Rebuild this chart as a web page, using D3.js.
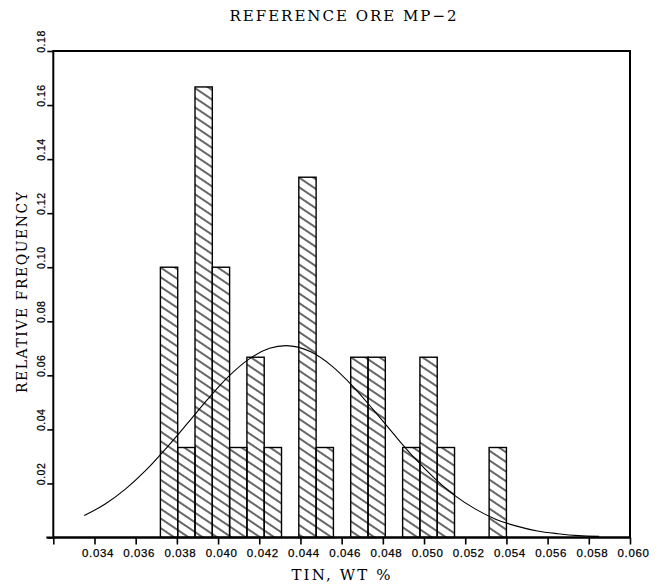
<!DOCTYPE html>
<html>
<head>
  <meta charset="UTF-8">
  <title>Reference Ore MP-2</title>
  <script src="https://cdn.jsdelivr.net/npm/d3@7"></script>
  <style>
    body { margin: 0; background: #fff; }
    svg { display: block; }
  </style>
</head>
<body>
  <div id="chart"></div>
  <script>
    // histogram of tin content, 30 assays, 20 bins
    const binStart = 0.0372;
    const binWidth = 0.00084;
    const relFreq = [0.1000, 0.0333, 0.1667, 0.1000, 0.0333, 0.0667, 0.0333, 0, 0.1333, 0.0333,
                     0, 0.0667, 0.0667, 0, 0.0333, 0.0667, 0.0333, 0, 0, 0.0333];

    // fitted normal curve
    const curveX = [0.0335, 0.0345, 0.0355, 0.0365, 0.0375, 0.0385, 0.0395, 0.0405, 0.0415, 0.0425,
                    0.0433, 0.0445, 0.0455, 0.0465, 0.0475, 0.0485, 0.0495, 0.0505, 0.0515, 0.0525,
                    0.0535, 0.0545, 0.0555, 0.0565, 0.0575, 0.0585];
    const curveY = [0.0081, 0.0123, 0.0179, 0.0249, 0.0332, 0.0421, 0.0512, 0.0595, 0.0660, 0.0700,
                    0.0710, 0.0687, 0.0636, 0.0563, 0.0476, 0.0385, 0.0297, 0.0220, 0.0155, 0.0105,
                    0.0067, 0.0042, 0.0024, 0.0014, 0.0007, 0.0004];

    const xTicks = [0.032, 0.034, 0.036, 0.038, 0.040, 0.042, 0.044, 0.046, 0.048, 0.050,
                    0.052, 0.054, 0.056, 0.058, 0.060];
    const yTicks = [0, 0.02, 0.04, 0.06, 0.08, 0.10, 0.12, 0.14, 0.16, 0.18];

    const width = 666, height = 586;
    const margin = {top: 51, right: 36, bottom: 48.5, left: 53.3};
    const plotW = width - margin.left - margin.right;
    const plotH = height - margin.top - margin.bottom;

    const svg = d3.select('#chart').append('svg')
      .attr('width', width)
      .attr('height', height);

    const x = d3.scaleLinear().domain([0.032, 0.060]).range([margin.left, margin.left + plotW]);
    const y = d3.scaleLinear().domain([0, 0.18]).range([margin.top + plotH, margin.top]);

    // hatch pattern "\\\"
    svg.append('defs').append('pattern')
      .attr('id', 'hatch')
      .attr('patternUnits', 'userSpaceOnUse')
      .attr('width', 10)
      .attr('height', 8)
      .attr('patternTransform', 'rotate(34)')
      .append('line')
        .attr('x1', -1).attr('x2', 11)
        .attr('y1', 4).attr('y2', 4)
        .attr('stroke', '#000')
        .attr('stroke-width', 1.2);

    const bars = relFreq.map((v, i) => ({x0: binStart + i * binWidth, x1: binStart + (i + 1) * binWidth, v: v}))
      .filter(d => d.v > 0);

    svg.append('g').selectAll('rect').data(bars).enter().append('rect')
      .attr('x', d => x(d.x0))
      .attr('y', d => y(d.v))
      .attr('width', d => x(d.x1) - x(d.x0))
      .attr('height', d => y(0) - y(d.v))
      .attr('fill', 'url(#hatch)')
      .attr('stroke', '#000')
      .attr('stroke-width', 1.4);

    const line = d3.line()
      .x(d => x(d[0]))
      .y(d => y(d[1]))
      .curve(d3.curveMonotoneX);

    svg.append('path')
      .datum(curveX.map((cx, i) => [cx, curveY[i]]))
      .attr('d', line)
      .attr('fill', 'none')
      .attr('stroke', '#000')
      .attr('stroke-width', 1.1);

    // frame
    svg.append('rect')
      .attr('x', margin.left).attr('y', margin.top)
      .attr('width', plotW).attr('height', plotH)
      .attr('fill', 'none')
      .attr('stroke', '#000')
      .attr('stroke-width', 2);

    // x axis
    const xAxis = d3.axisBottom(x)
      .tickValues(xTicks)
      .tickSize(7)
      .tickPadding(4)
      .tickFormat(d => d === 0.032 ? '' : d3.format('.3f')(d));

    const gx = svg.append('g')
      .attr('transform', `translate(0,${y(0)})`)
      .call(xAxis);
    gx.select('.domain').attr('d', `M${margin.left - 7},0H${margin.left + plotW}`).attr('stroke-width', 2);
    gx.selectAll('.tick line').attr('stroke-width', 1.6);
    gx.selectAll('.tick text')
      .attr('font-family', 'Liberation Sans, Arial, sans-serif')
      .attr('font-size', 11.5)
      .attr('letter-spacing', 0.6)
      .attr('stroke', '#000')
      .attr('stroke-width', 0.25)
      .attr('dx', 3)
      .attr('fill', '#000');

    // y axis
    const yAxis = d3.axisLeft(y)
      .tickValues(yTicks)
      .tickSize(6)
      .tickFormat(d => d === 0 ? '' : d3.format('.2f')(d));

    const gy = svg.append('g')
      .attr('transform', `translate(${margin.left},0)`)
      .call(yAxis);
    gy.select('.domain').remove();
    gy.selectAll('.tick line').attr('stroke-width', 1.6);
    gy.selectAll('.tick text')
      .attr('x', null).attr('dy', null)
      .attr('transform', 'translate(-8,-10) rotate(-90)')
      .attr('text-anchor', 'middle')
      .attr('font-family', 'Liberation Sans, Arial, sans-serif')
      .attr('font-size', 10.5)
      .attr('letter-spacing', 0.5)
      .attr('stroke', '#000')
      .attr('stroke-width', 0.25)
      .attr('fill', '#000');

    // titles
    svg.append('text')
      .attr('x', 343).attr('y', 21)
      .attr('text-anchor', 'middle')
      .attr('font-family', 'DejaVu Serif, serif')
      .attr('font-size', 15)
      .attr('textLength', 227)
      .attr('lengthAdjust', 'spacing')
      .text('REFERENCE ORE MP\u22122');

    svg.append('text')
      .attr('x', 341).attr('y', 580)
      .attr('text-anchor', 'middle')
      .attr('font-family', 'DejaVu Serif, serif')
      .attr('font-size', 15)
      .attr('textLength', 99)
      .attr('lengthAdjust', 'spacing')
      .text('TIN, WT %');

    svg.append('text')
      .attr('transform', `translate(27,${292.5}) rotate(-90)`)
      .attr('text-anchor', 'middle')
      .attr('font-family', 'DejaVu Serif, serif')
      .attr('font-size', 14)
      .attr('textLength', 201)
      .attr('lengthAdjust', 'spacing')
      .text('RELATIVE FREQUENCY');
  </script>
</body>
</html>
